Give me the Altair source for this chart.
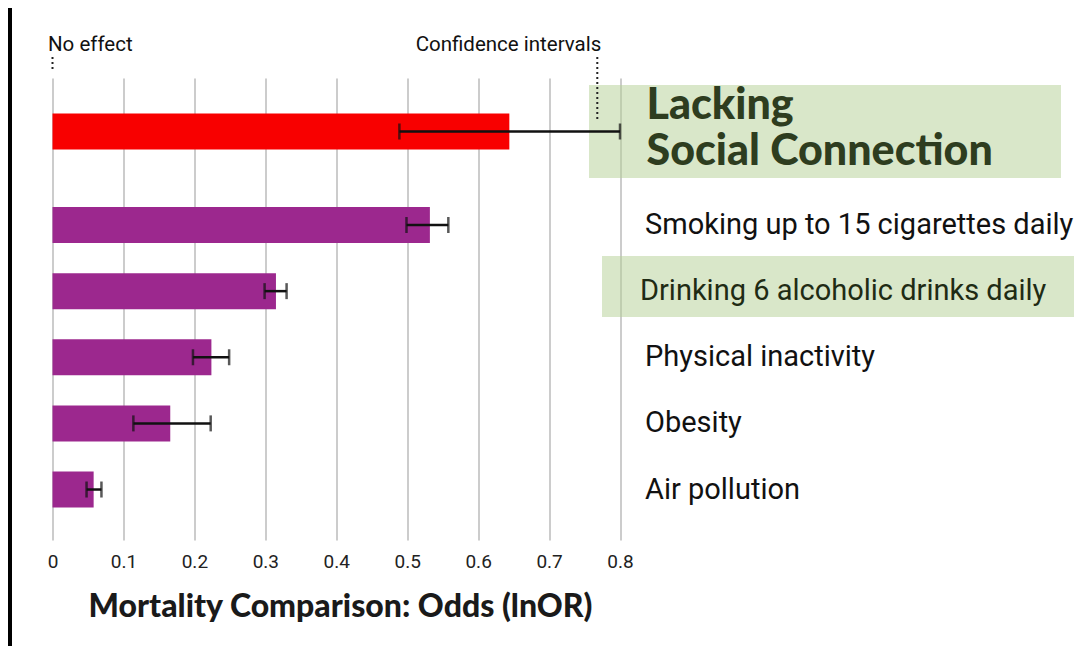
import altair as alt
import pandas as pd

categories = [
    "Lacking Social Connection",
    "Smoking up to 15 cigarettes daily",
    "Drinking 6 alcoholic drinks daily",
    "Physical inactivity",
    "Obesity",
    "Air pollution",
]
values = [0.644, 0.532, 0.315, 0.224, 0.166, 0.058]
ci_low = [0.489, 0.499, 0.299, 0.198, 0.114, 0.048]
ci_high = [0.800, 0.558, 0.330, 0.249, 0.223, 0.069]
tick_values = [0, 0.1, 0.2, 0.3, 0.4, 0.5, 0.6, 0.7, 0.8]
ci_marker = 0.768  # where the "Confidence intervals" pointer sits

df = pd.DataFrame({"category": categories, "value": values, "lo": ci_low, "hi": ci_high})
one = pd.DataFrame({"k": [0]})
ann = pd.DataFrame({"x": [0.0, ci_marker], "label": ["No effect", "Confidence intervals"]})

RED = "#f80000"
PURPLE = "#9c288e"
BOX = "#b3cf93"
DARKGREEN = "#2e3d1f"
LABEL_FONT = "Roboto"
HEAVY_FONT = "Lato"
TOP_OFF = -27.4

yscale = alt.Scale(domain=categories, paddingInner=0, paddingOuter=0.4934, align=0.733)
Y = alt.Y("category:N", sort=categories, scale=yscale, axis=None)
xscale = alt.Scale(domain=[0, 0.8], nice=False, zero=True)
xaxis = alt.Axis(
    values=tick_values, format=".1~f", grid=True, gridColor="#cccccc", gridWidth=2,
    domain=False, ticks=False, labelPadding=12, labelFont=LABEL_FONT, labelFontSize=19,
    labelFlush=False, labelColor="#222222", title="Mortality Comparison: Odds (lnOR)",
    titleFont=HEAVY_FONT, titleFontSize=32, titleFontWeight=900, titleColor="#1a1a1a",
    titleBaseline="alphabetic", titleY=76, titleX=287.5, titleAlign="center",
)

base = alt.Chart(df)
is_top = alt.datum.category == categories[0]
not_top = alt.datum.category != categories[0]

# decorative highlight boxes
box_top = alt.Chart(one).mark_rect(color=BOX, opacity=0.5).encode(
    x=alt.value(536.5), x2=alt.value(1008.5), y=alt.value(7), y2=alt.value(100))
box_drink = alt.Chart(one).mark_rect(color=BOX, opacity=0.5).encode(
    x=alt.value(549.5), x2=alt.value(1021.5), y=alt.value(178), y2=alt.value(239))
left_strip = alt.Chart(one).mark_rect(color="#000000").encode(
    x=alt.value(-44.5), x2=alt.value(-40.5), y=alt.value(-70), y2=alt.value(568))

bars_rest = base.transform_filter(not_top).mark_bar(size=36, color=PURPLE).encode(
    y=Y, x=alt.X("value:Q", scale=xscale, axis=xaxis))
bar_top = base.transform_filter(is_top).mark_bar(size=36, color=RED, yOffset=TOP_OFF).encode(
    y=Y, x=alt.X("value:Q", scale=xscale))

def errbars(pred, off):
    rule = base.transform_filter(pred).mark_rule(color="#111111", strokeWidth=2.5, yOffset=off).encode(
        y=Y, x=alt.X("lo:Q", scale=xscale), x2="hi:Q")
    t_lo = base.transform_filter(pred).mark_tick(color="#111111", size=16, thickness=2.5, yOffset=off).encode(
        y=Y, x=alt.X("lo:Q", scale=xscale))
    t_hi = base.transform_filter(pred).mark_tick(color="#111111", size=16, thickness=2.5, yOffset=off).encode(
        y=Y, x=alt.X("hi:Q", scale=xscale))
    return [rule, t_lo, t_hi]

labels_plain = base.transform_filter(
    (alt.datum.category != categories[0]) & (alt.datum.category != categories[2])
).mark_text(align="left", baseline="middle", font=LABEL_FONT, fontSize=29, color="#111111").encode(
    y=Y, x=alt.value(592.5), text="category:N")
label_drink = base.transform_filter(alt.datum.category == categories[2]).mark_text(
    align="left", baseline="middle", font=LABEL_FONT, fontSize=29, color="#1f2b14", dx=-5).encode(
    y=Y, x=alt.value(592.5), text="category:N")
label_top = base.transform_filter(is_top).transform_calculate(
    lines="['Lacking', 'Social Connection']").mark_text(
    align="left", baseline="middle", font=HEAVY_FONT, fontSize=43, fontWeight=900,
    color=DARKGREEN, lineHeight=46, yOffset=-53.1).encode(
    y=Y, x=alt.value(594), text="lines:N")

ann_ne_line = alt.Chart(ann).transform_filter(alt.datum.label == "No effect").mark_rule(
    color="#222222", strokeWidth=2, strokeDash=[2, 3]).encode(
    x=alt.X("x:Q", scale=xscale), y=alt.value(-21), y2=alt.value(-6))
ann_ci_line = alt.Chart(ann).transform_filter(alt.datum.label != "No effect").mark_rule(
    color="#222222", strokeWidth=2, strokeDash=[2, 3]).encode(
    x=alt.X("x:Q", scale=xscale), y=alt.value(-21), y2=alt.value(42))
ann_ne_text = alt.Chart(ann).transform_filter(alt.datum.label == "No effect").mark_text(
    align="left", baseline="middle", font=LABEL_FONT, fontSize=20.5, color="#111111", dx=-4.5).encode(
    x=alt.X("x:Q", scale=xscale), y=alt.value(-33), text="label:N")
ann_ci_text = alt.Chart(ann).transform_filter(alt.datum.label != "No effect").mark_text(
    align="right", baseline="middle", font=LABEL_FONT, fontSize=20.5, color="#111111", dx=4).encode(
    x=alt.X("x:Q", scale=xscale), y=alt.value(-33), text="label:N")

layers = [left_strip, box_top, box_drink, bars_rest, bar_top]
layers += errbars(not_top, 0)
layers += errbars(is_top, TOP_OFF)
layers += [labels_plain, label_drink, label_top, ann_ne_line, ann_ci_line, ann_ne_text, ann_ci_text]

chart = alt.layer(*layers).properties(
    width=567.5, height=462,
    autosize=alt.AutoSizeParams(type="none"),
    padding={"left": 44.5, "top": 70, "right": 461, "bottom": 106},
    background="#ffffff",
).configure_view(stroke=None)

chart.save("out.html", embed_options={"renderer": "svg", "actions": False})
